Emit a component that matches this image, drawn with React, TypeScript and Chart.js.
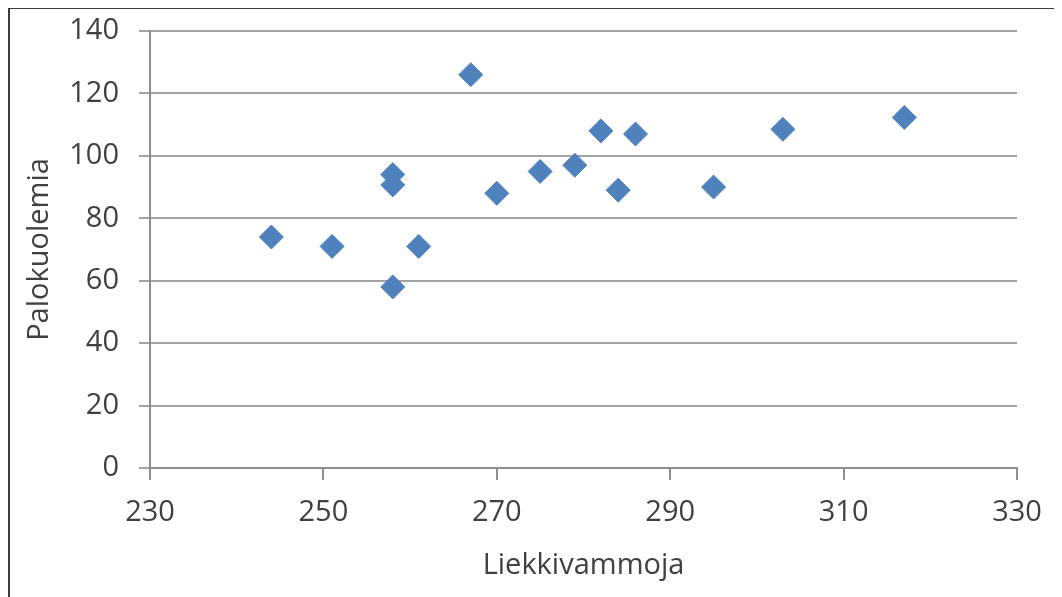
import React, { useEffect, useRef } from "react";
import { Chart, registerables } from "chart.js";

Chart.register(...registerables);

const liekkivammoja = [244, 251, 258, 258, 258, 261, 267, 270, 275, 279, 282, 284, 286, 295, 303, 317];
const palokuolemia = [74, 71, 94, 90.7, 58, 71, 126, 88, 95, 97, 108, 89, 107, 90, 108.5, 112.3];

const xTitle = "Liekkivammoja";
const yTitle = "Palokuolemia";
const xMin = 230;
const xMax = 330;
const xStep = 20;
const yMin = 0;
const yMax = 140;
const yStep = 20;

export default function App() {
  const ref = useRef<HTMLCanvasElement | null>(null);

  useEffect(() => {
    if (!ref.current) return;
    const font = { family: "'Open Sans', sans-serif", size: 29 };
    const textColor = "#404040";
    const gridColor = "#a3a3a3";
    const axisColor = "#8e8e8e";
    const chart = new Chart(ref.current, {
      type: "scatter",
      data: {
        datasets: [
          {
            data: liekkivammoja.map((x, i) => ({ x, y: palokuolemia[i] })),
            pointStyle: "rectRot",
            pointRadius: 12,
            pointHoverRadius: 12,
            backgroundColor: "#4f81bd",
            borderColor: "#4f81bd",
            borderWidth: 1,
          },
        ],
      },
      options: {
        animation: false,
        responsive: false,
        devicePixelRatio: 1,
        layout: { padding: { left: 0, right: 45, top: 22, bottom: 0 } },
        plugins: { legend: { display: false }, tooltip: { enabled: false } },
        scales: {
          x: {
            type: "linear",
            min: xMin,
            max: xMax,
            afterFit: (s: any) => {
              s.height = 129;
              s.paddingLeft = 0;
              s.paddingRight = 0;
            },
            ticks: { stepSize: xStep, font, color: textColor, padding: 15, maxRotation: 0 },
            grid: { drawOnChartArea: false, drawTicks: true, tickLength: 12, color: axisColor, lineWidth: 2 },
            border: { color: axisColor, width: 2 },
            title: { display: true, text: xTitle, font, color: textColor, padding: { top: 14, bottom: 14 } },
          },
          y: {
            type: "linear",
            min: yMin,
            max: yMax,
            afterFit: (s: any) => {
              s.width = 140;
              s.paddingTop = 0;
              s.paddingBottom = 0;
            },
            ticks: { stepSize: yStep, font, color: textColor, padding: 20 },
            grid: { color: gridColor, lineWidth: 2, tickLength: 11 },
            border: { color: axisColor, width: 2 },
            title: { display: true, text: yTitle, font, color: textColor, padding: { top: 12, bottom: 12 } },
          },
        },
      },
    });
    return () => chart.destroy();
  }, []);

  return (
    <div
      style={{
        position: "relative",
        width: 1052,
        height: 588,
        marginTop: -1,
        borderLeft: "2px solid #3c3c3c",
        borderTop: "2px solid #3c3c3c",
        overflow: "hidden",
        background: "#fff",
      }}
    >
      <canvas ref={ref} width={1052} height={588} style={{ display: "block", width: 1052, height: 588 }} />
    </div>
  );
}
